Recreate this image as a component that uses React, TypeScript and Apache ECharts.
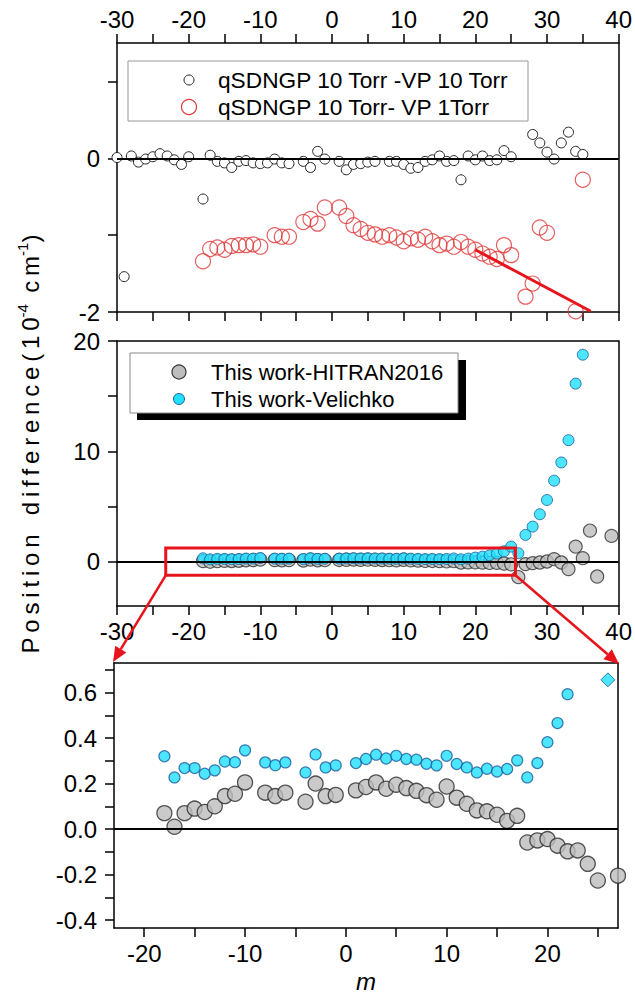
import React, { useEffect, useRef } from "react";
import * as echarts from "echarts";

const FONT = "'Liberation Sans', Arial, Helvetica, sans-serif";

// ---- Top panel: qSDNGP 10 Torr - VP 10 Torr (black hollow) ----
const mQ10 = [-30, -29, -28, -27, -26, -25, -24, -23, -22, -21, -20, -18, -17, -16, -15, -14, -13, -12, -11, -10, -9, -8, -7, -6, -4, -3, -2, -1, 1, 2, 3, 4, 5, 6, 8, 9, 10, 11, 12, 13, 14, 15, 16, 17, 18, 19, 20, 21, 22, 23, 24, 25, 28, 29, 30, 31, 32, 33, 34, 35];
const dQ10 = [0.01, -1.54, 0.03, -0.05, -0.01, 0.02, 0.06, 0.03, -0.02, -0.08, 0.02, -0.53, 0.04, -0.04, -0.06, -0.12, -0.04, -0.03, -0.06, -0.07, -0.06, -0.01, -0.06, -0.07, -0.04, -0.12, 0.09, -0.01, -0.04, -0.15, -0.08, -0.07, -0.05, -0.04, -0.04, -0.04, -0.08, -0.13, -0.12, -0.04, -0.02, 0.03, -0.04, -0.03, -0.28, 0.03, -0.02, 0.03, -0.03, -0.02, 0.1, 0.02, 0.31, 0.2, 0.08, -0.01, 0.2, 0.34, 0.09, 0.05];

// ---- Top panel: qSDNGP 10 Torr - VP 1 Torr (red hollow) ----
const mQ1 = [-18, -17, -16, -15, -14, -13, -12, -11, -10, -8, -7, -6, -4, -3, -2, -1, 1, 2, 3, 4, 5, 6, 7, 8, 9, 10, 11, 12, 13, 14, 15, 16, 17, 18, 19, 20, 21, 22, 23, 24, 25, 27, 28, 29, 30, 34, 35];
const dQ1 = [-1.34, -1.18, -1.16, -1.19, -1.14, -1.13, -1.13, -1.12, -1.15, -1.0, -1.02, -1.02, -0.83, -0.79, -0.85, -0.64, -0.64, -0.75, -0.87, -0.92, -0.97, -0.99, -1.02, -1.0, -1.03, -1.08, -1.04, -1.06, -1.02, -1.08, -1.13, -1.11, -1.15, -1.09, -1.15, -1.19, -1.24, -1.28, -1.31, -1.13, -1.26, -1.8, -1.63, -0.9, -0.97, -1.99, -0.28];

// red trend line
const fitM = [20, 36.1];
const fitD = [-1.19, -1.99];

// ---- This work - HITRAN2016 (grey) ----
const mHitran = [-18, -17, -16, -15, -14, -13, -12, -11, -10, -8, -7, -6, -4, -3, -2, -1, 1, 2, 3, 4, 5, 6, 7, 8, 9, 10, 11, 12, 13, 14, 15, 16, 17, 18, 19, 20, 21, 22, 23, 24, 25, 26, 27, 28, 29, 30, 31, 32, 33, 34, 35, 36, 37, 39];
const dHitran = [0.07, 0.01, 0.07, 0.09, 0.075, 0.1, 0.145, 0.155, 0.205, 0.16, 0.145, 0.16, 0.12, 0.2, 0.145, 0.15, 0.17, 0.185, 0.205, 0.177, 0.195, 0.18, 0.168, 0.149, 0.129, 0.187, 0.138, 0.111, 0.082, 0.078, 0.063, 0.036, 0.058, -0.059, -0.05, -0.044, -0.073, -0.098, -0.094, -0.153, -0.226, -1.38, -0.205, -0.12, -0.06, 0.03, 0.24, -0.06, -0.66, 1.38, 0.33, 2.83, -1.33, 2.35];

// ---- This work - Velichko (cyan) ----
const mVel = [-18, -17, -16, -15, -14, -13, -12, -11, -10, -8, -7, -6, -4, -3, -2, -1, 1, 2, 3, 4, 5, 6, 7, 8, 9, 10, 11, 12, 13, 14, 15, 16, 17, 18, 19, 20, 21, 22, 23, 24, 25, 26, 27, 28, 29, 30, 31, 32, 33, 34, 35];
const dVel = [0.32, 0.227, 0.268, 0.268, 0.243, 0.258, 0.297, 0.294, 0.346, 0.293, 0.281, 0.293, 0.249, 0.328, 0.271, 0.28, 0.29, 0.308, 0.327, 0.31, 0.322, 0.308, 0.305, 0.287, 0.28, 0.322, 0.286, 0.271, 0.249, 0.265, 0.253, 0.264, 0.302, 0.227, 0.29, 0.382, 0.466, 0.593, 0.75, 0.95, 1.38, 0.78, 2.44, 3.19, 4.31, 5.6, 7.35, 9.0, 11.02, 16.14, 18.76];

// off-scale marker in zoomed panel
const offM = [26];
const offD = [0.656];

// zoom box (in middle-panel data coordinates)
const boxM = [-23.2, 25.6];
const boxD = [-1.22, 1.25];

const legendTop = ["qSDNGP 10 Torr -VP 10 Torr", "qSDNGP 10 Torr- VP 1Torr"];
const legendMid = ["This work-HITRAN2016", "This work-Velichko"];

// ticks / labels
const xWideTicks = [-30, -25, -20, -15, -10, -5, 0, 5, 10, 15, 20, 25, 30, 35, 40];
const xWideLabels = [-30, -20, -10, 0, 10, 20, 30, 40];
const yTopTicks = [-2, -1, 0, 1];
const yTopLabels = [-2, 0];
const yMidTicks = [0, 5, 10, 15, 20];
const yMidLabels = [0, 10, 20];
const xZoomTicks = [-20, -15, -10, -5, 0, 5, 10, 15, 20, 25];
const xZoomLabels = [-20, -10, 0, 10, 20];
const yZoomTicks = [-0.4, -0.3, -0.2, -0.1, 0, 0.1, 0.2, 0.3, 0.4, 0.5, 0.6, 0.7];
const yZoomLabels = [-0.4, -0.2, 0, 0.2, 0.4, 0.6];

const pairs = (xs: number[], ys: number[]) => xs.map((x, i) => [x, ys[i]]);

const RED = "#e8141b";
const LINE = { show: true, onZero: false, lineStyle: { color: "#000", width: 1.5 } };

function axis(o: any) {
  const base: any = {
    type: "value",
    axisLine: LINE,
    splitLine: { show: false },
    axisTick: { show: false },
    axisLabel: { show: false },
  };
  if (o.ticks) {
    base.axisTick = { show: true, length: 9, lineStyle: { color: "#000", width: 1.5 }, customValues: o.ticks };
  }
  if (o.labels) {
    base.axisLabel = {
      show: true,
      customValues: o.labels,
      margin: o.margin ?? 12,
      fontSize: 24,
      color: "#000",
      fontFamily: FONT,
      formatter: o.fmt,
    };
  }
  const r = { ...base, ...o };
  delete r.ticks;
  delete r.labels;
  delete r.margin;
  delete r.fmt;
  return r;
}

function zeroLine(xi: number, yi: number) {
  return {
    type: "line",
    data: [],
    xAxisIndex: xi,
    yAxisIndex: yi,
    z: 1,
    silent: true,
    markLine: {
      silent: true,
      symbol: ["none", "none"],
      label: { show: false },
      lineStyle: { color: "#000", width: 2, type: "solid" },
      data: [{ yAxis: 0 }],
    },
  };
}

function spaced(s: string) {
  return s.split("").join("\u2009");
}

export default function App() {
  const ref = useRef<HTMLDivElement>(null);
  useEffect(() => {
    document.body.style.margin = "0";
    const chart = echarts.init(ref.current!, null, { renderer: "svg" });
    const option: any = {
      animation: false,
      backgroundColor: "#fff",
      textStyle: { fontFamily: FONT, color: "#000" },
      grid: [
        { left: 117, top: 43, width: 503, height: 269 },
        { left: 117, top: 341, width: 503, height: 265 },
        { left: 114, top: 663, width: 504, height: 265 },
      ],
      xAxis: [
        axis({ gridIndex: 0, position: "top", min: -30, max: 40, ticks: xWideTicks, labels: xWideLabels, margin: 12 }),
        axis({ gridIndex: 0, position: "bottom", min: -30, max: 40, ticks: xWideTicks }),
        axis({ gridIndex: 1, position: "top", min: -30, max: 40 }),
        axis({ gridIndex: 1, position: "bottom", min: -30, max: 40, ticks: xWideTicks, labels: xWideLabels, margin: 13 }),
        axis({ gridIndex: 2, position: "top", min: -23, max: 27 }),
        {
          ...axis({ gridIndex: 2, position: "bottom", min: -23, max: 27, ticks: xZoomTicks, labels: xZoomLabels, margin: 13 }),
          name: "m",
          nameLocation: "middle",
          nameGap: 41,
          nameTextStyle: { fontStyle: "italic", fontSize: 24, fontFamily: FONT, color: "#000" },
        },
      ],
      yAxis: [
        axis({ gridIndex: 0, position: "left", min: -2, max: 1.5, ticks: yTopTicks, labels: yTopLabels, margin: 17 }),
        axis({ gridIndex: 0, position: "right", min: -2, max: 1.5 }),
        axis({ gridIndex: 1, position: "left", min: -4, max: 20, ticks: yMidTicks, labels: yMidLabels, margin: 17 }),
        axis({ gridIndex: 1, position: "right", min: -4, max: 20 }),
        axis({
          gridIndex: 2, position: "left", min: -0.435, max: 0.73, ticks: yZoomTicks, labels: yZoomLabels, margin: 17,
          fmt: (v: number) => v.toFixed(1),
        }),
        axis({ gridIndex: 2, position: "right", min: -0.435, max: 0.73 }),
      ],
      series: [
        zeroLine(0, 0),
        zeroLine(3, 2),
        zeroLine(5, 4),
        {
          name: legendTop[0],
          type: "scatter",
          xAxisIndex: 0,
          yAxisIndex: 0,
          symbol: "circle",
          symbolSize: 10,
          itemStyle: { color: "#fff", borderColor: "#222", borderWidth: 1, opacity: 1 },
          data: pairs(mQ10, dQ10),
          clip: true,
          z: 3,
        },
        {
          name: legendTop[1],
          type: "scatter",
          xAxisIndex: 0,
          yAxisIndex: 0,
          symbol: "circle",
          symbolSize: 15,
          itemStyle: { color: "rgba(255,255,255,0)", borderColor: "#e03a3a", borderWidth: 1.2 },
          data: pairs(mQ1, dQ1),
          clip: true,
          z: 3,
        },
        {
          type: "line",
          xAxisIndex: 0,
          yAxisIndex: 0,
          symbol: "none",
          lineStyle: { color: RED, width: 3 },
          data: pairs(fitM, fitD),
          clip: true,
          z: 4,
          silent: true,
        },
        {
          name: legendMid[0],
          type: "scatter",
          xAxisIndex: 3,
          yAxisIndex: 2,
          symbol: "circle",
          symbolSize: 13,
          itemStyle: { color: "#bdbdbd", borderColor: "#333", borderWidth: 1.2 },
          data: pairs(mHitran, dHitran),
          clip: true,
          z: 3,
        },
        {
          name: legendMid[1],
          type: "scatter",
          xAxisIndex: 3,
          yAxisIndex: 2,
          symbol: "circle",
          symbolSize: 11,
          itemStyle: { color: "#1fe0ff", borderColor: "#1c5d9c", borderWidth: 1 },
          data: pairs(mVel, dVel),
          clip: true,
          z: 4,
        },
        {
          type: "scatter",
          xAxisIndex: 5,
          yAxisIndex: 4,
          symbol: "circle",
          symbolSize: 15,
          itemStyle: { color: "#bdbdbd", borderColor: "#2a2a2a", borderWidth: 1.3 },
          data: pairs(mHitran, dHitran),
          clip: true,
          z: 3,
        },
        {
          type: "scatter",
          xAxisIndex: 5,
          yAxisIndex: 4,
          symbol: "circle",
          symbolSize: 11,
          itemStyle: { color: "#1fe0ff", borderColor: "#1c5d9c", borderWidth: 1.2 },
          data: pairs(mVel, dVel),
          clip: true,
          z: 4,
        },
        {
          type: "scatter",
          xAxisIndex: 5,
          yAxisIndex: 4,
          symbol: "diamond",
          symbolSize: 14,
          itemStyle: { color: "#1fe0ff", borderColor: "#1c5d9c", borderWidth: 1 },
          data: pairs(offM, offD),
          clip: true,
          z: 4,
        },
      ],
    };
    chart.setOption(option);

    const px = (xi: number, yi: number, pt: number[]) =>
      chart.convertToPixel({ xAxisIndex: xi, yAxisIndex: yi } as any, pt) as unknown as number[];
    const rTL = px(3, 2, [boxM[0], boxD[1]]);
    const rBR = px(3, 2, [boxM[1], boxD[0]]);
    const zTL = px(5, 4, [-23, 0.73]);
    const zTR = px(5, 4, [27, 0.73]);

    const arrow = (from: number[], to: number[]) => {
      const dx = to[0] - from[0];
      const dy = to[1] - from[1];
      const L = Math.hypot(dx, dy);
      const ux = dx / L;
      const uy = dy / L;
      const hl = 15;
      const hw = 6.5;
      const b = [to[0] - ux * hl, to[1] - uy * hl];
      return [
        { type: "line", z: 100, shape: { x1: from[0], y1: from[1], x2: b[0], y2: b[1] }, style: { stroke: RED, lineWidth: 2.5 } },
        {
          type: "polygon",
          z: 100,
          shape: { points: [[to[0], to[1]], [b[0] - uy * hw, b[1] + ux * hw], [b[0] + uy * hw, b[1] - ux * hw]] },
          style: { fill: RED },
        },
      ];
    };

    const txt = (x: number, y: number, text: string, size = 22) => ({
      type: "text",
      z: 101,
      x,
      y,
      style: { text, fontSize: size, fontFamily: FONT, fill: "#000", verticalAlign: "middle", textVerticalAlign: "middle" },
    });

    const yTitle =
      "{b|" + spaced("Position") + "\u2009\u2009\u2009\u2009" + spaced("difference(10") + "}{s|-4}{b|\u2009 " + spaced("cm") + "}{s|-1}{b|)}";

    chart.setOption({
      graphic: {
        elements: [
          // top legend
          { type: "rect", z: 100, shape: { x: 128, y: 61, width: 400, height: 60 }, style: { fill: "#fff", stroke: "#999", lineWidth: 1 } },
          { type: "circle", z: 101, shape: { cx: 189, cy: 80, r: 5 }, style: { fill: "#fff", stroke: "#222", lineWidth: 1 } },
          { type: "circle", z: 101, shape: { cx: 189, cy: 107, r: 7.5 }, style: { fill: "#fff", stroke: "#e03a3a", lineWidth: 1.2 } },
          txt(218, 80, legendTop[0], 22.7),
          txt(218, 107, legendTop[1], 22.7),
          // middle legend
          { type: "rect", z: 100, shape: { x: 137, y: 360, width: 329, height: 60 }, style: { fill: "#000" } },
          { type: "rect", z: 100, shape: { x: 130, y: 353, width: 328, height: 60 }, style: { fill: "#fff", stroke: "#888", lineWidth: 1 } },
          { type: "circle", z: 101, shape: { cx: 179, cy: 372, r: 7 }, style: { fill: "#bdbdbd", stroke: "#333", lineWidth: 1.2 } },
          { type: "circle", z: 101, shape: { cx: 179, cy: 399, r: 5.5 }, style: { fill: "#1fe0ff", stroke: "#1c5d9c", lineWidth: 1 } },
          txt(211, 372, legendMid[0]),
          txt(211, 399, legendMid[1]),
          // zoom box + arrows
          {
            type: "rect",
            z: 100,
            shape: { x: rTL[0], y: rTL[1], width: rBR[0] - rTL[0], height: rBR[1] - rTL[1] },
            style: { fill: "transparent", stroke: RED, lineWidth: 3 },
          },
          ...arrow([rTL[0], rBR[1]], [zTL[0] - 1, zTL[1] - 1]),
          ...arrow([rBR[0], rBR[1]], [zTR[0] + 1, zTR[1] + 1]),
          // y-axis title
          {
            type: "text",
            z: 101,
            x: 30,
            y: 444,
            rotation: Math.PI / 2,
            style: {
              text: yTitle,
              align: "center",
              verticalAlign: "middle",
              textAlign: "center",
              textVerticalAlign: "middle",
              fill: "#000",
              fontFamily: FONT,
              rich: {
                b: { fontSize: 24, lineHeight: 30, fontFamily: FONT, fill: "#000", color: "#000" },
                s: { fontSize: 15, lineHeight: 16, verticalAlign: "top", fontFamily: FONT, fill: "#000", color: "#000" },
              },
            },
          },
        ],
      },
    });

    return () => chart.dispose();
  }, []);
  return <div ref={ref} style={{ width: 635, height: 1000 }} />;
}
